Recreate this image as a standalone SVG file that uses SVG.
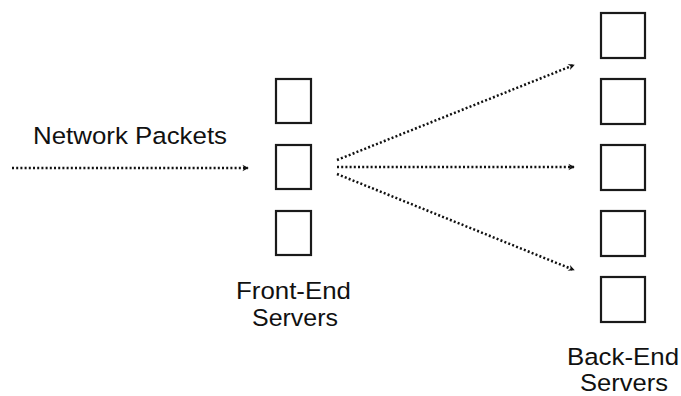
<svg xmlns="http://www.w3.org/2000/svg" width="681" height="396" viewBox="0 0 681 396">
<defs>
<style>
.box{fill:#fff;stroke:#1a1a1a;stroke-width:2.2}
.lbl{font-family:"Liberation Sans",Arial,sans-serif;font-size:24.5px;fill:#111}
.dot{fill:none;stroke:#111;stroke-width:2.5;stroke-dasharray:2 2.2}
</style>
<marker id="ah" viewBox="0 0 10 10" refX="8" refY="5" markerWidth="8" markerHeight="8" markerUnits="userSpaceOnUse" orient="auto">
<path d="M1,1 L9,5 L1,9 L3.5,5 Z" fill="#111"/>
</marker>
</defs>
<rect width="681" height="396" fill="#fff"/>
<text class="lbl" x="33" y="144" textLength="194" lengthAdjust="spacingAndGlyphs">Network Packets</text>
<g id="fe1"><rect class="box" x="276" y="79" width="35" height="44"/></g>
<g id="fe2"><rect class="box" x="276" y="145" width="35" height="44"/></g>
<g id="fe3"><rect class="box" x="276" y="211" width="35" height="44"/></g>
<g id="fe-label"><text class="lbl" x="236" y="299" textLength="115" lengthAdjust="spacingAndGlyphs">Front-End</text><text class="lbl" x="252" y="326" textLength="86" lengthAdjust="spacingAndGlyphs">Servers</text></g>
<g id="be1"><rect class="box" x="601" y="13" width="44" height="45"/></g>
<g id="be2"><rect class="box" x="601" y="79" width="44" height="45"/></g>
<g id="be3"><rect class="box" x="601" y="145" width="44" height="45"/></g>
<g id="be4"><rect class="box" x="601" y="211" width="44" height="45"/></g>
<g id="be5"><rect class="box" x="601" y="277" width="44" height="45"/></g>
<g id="be-label"><text class="lbl" x="567" y="365" textLength="112" lengthAdjust="spacingAndGlyphs">Back-End</text><text class="lbl" x="580" y="391" textLength="88" lengthAdjust="spacingAndGlyphs">Servers</text></g>
<g id="connectors">
<line class="dot" x1="12" y1="168" x2="248" y2="168" marker-end="url(#ah)"/>
<line class="dot" x1="337" y1="160" x2="574" y2="65" marker-end="url(#ah)"/>
<line class="dot" x1="337" y1="167" x2="574" y2="167" marker-end="url(#ah)"/>
<line class="dot" x1="337" y1="174" x2="574" y2="270" marker-end="url(#ah)"/>
</g>
</svg>
